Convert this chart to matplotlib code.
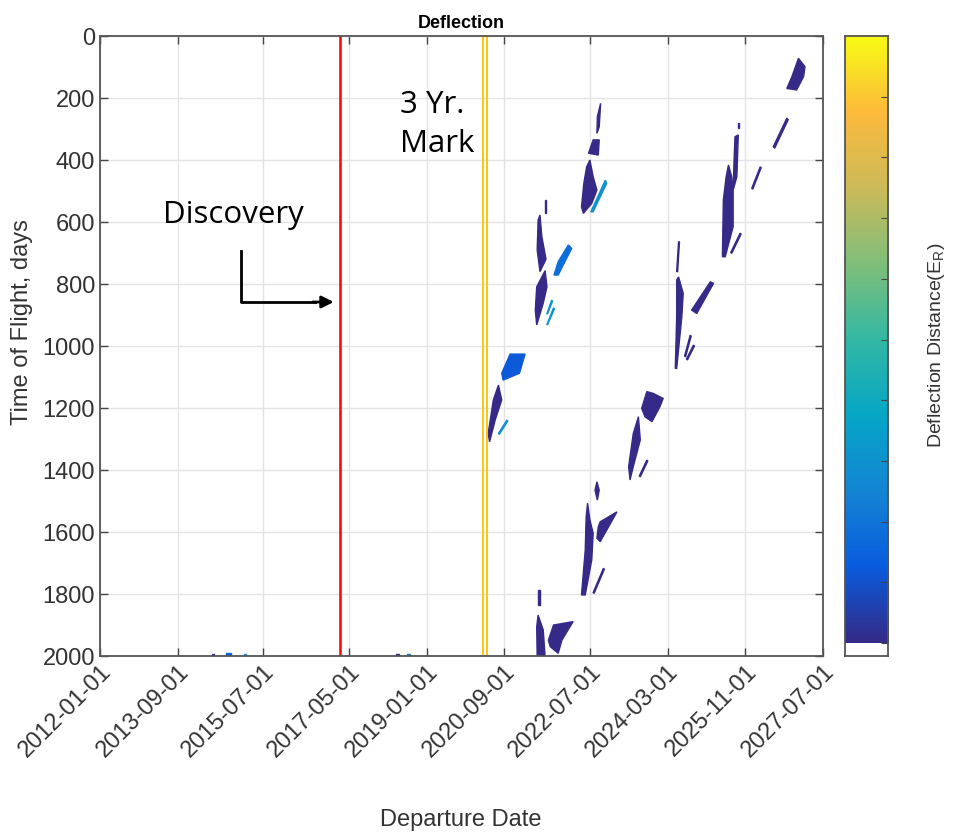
import numpy as np
import matplotlib
matplotlib.use("Agg")
import matplotlib.pyplot as plt
import matplotlib.dates as mdates
from matplotlib.colors import LinearSegmentedColormap
from datetime import datetime

plt.rcParams["font.family"] = ["Liberation Sans", "DejaVu Sans"]

# Departure window and reference dates
date_start = "2012-01-01"
date_end = "2027-07-01"
tick_dates = ["2012-01-01", "2013-09-01", "2015-07-01", "2017-05-01", "2019-01-01",
              "2020-09-01", "2022-07-01", "2024-03-01", "2025-11-01", "2027-07-01"]
tof_ticks = [0, 200, 400, 600, 800, 1000, 1200, 1400, 1600, 1800, 2000]
discovery_year = 2017.15
three_yr_mark = [2020.21, 2020.29]

# Deflection regions: departure (decimal year), time of flight (days), level (0..1)
blob_years = [
    [2020.79, 2021.11, 2020.99, 2020.64, 2020.61],
    [2020.54, 2020.61, 2020.47, 2020.35, 2020.32, 2020.43],
    [2020.72, 2020.74, 2020.56, 2020.54],
    [2021.43, 2021.47, 2021.56, 2021.43, 2021.37, 2021.39],
    [2021.54, 2021.58, 2021.50, 2021.36, 2021.33, 2021.36],
    [2021.54, 2021.56, 2021.56, 2021.53],
    [2022.04, 2022.11, 2021.82, 2021.73, 2021.82],
    [2021.68, 2021.70, 2021.59, 2021.58],
    [2021.72, 2021.74, 2021.59, 2021.58],
    [2022.73, 2022.70, 2022.65, 2022.66],
    [2022.57, 2022.70, 2022.68, 2022.47],
    [2022.50, 2022.57, 2022.65, 2022.54, 2022.36, 2022.32, 2022.37, 2022.43],
    [2022.83, 2022.86, 2022.57, 2022.52],
    [2022.65, 2022.70, 2022.66, 2022.61],
    [2022.45, 2022.50, 2022.57, 2022.54, 2022.40, 2022.32, 2022.40, 2022.42],
    [2022.72, 2023.08, 2022.86, 2022.72, 2022.65, 2022.68],
    [2022.79, 2022.81, 2022.59, 2022.57],
    [2021.39, 2021.43, 2021.43, 2021.39],
    [2021.39, 2021.50, 2021.54, 2021.37, 2021.36],
    [2021.72, 2022.14, 2021.90, 2021.82, 2021.65, 2021.61],
    [2023.72, 2023.86, 2024.07, 2024.00, 2023.83, 2023.68, 2023.61],
    [2023.54, 2023.58, 2023.43, 2023.36, 2023.33, 2023.43],
    [2023.72, 2023.74, 2023.58, 2023.56],
    [2024.40, 2024.42, 2024.38, 2024.36],
    [2024.40, 2024.50, 2024.47, 2024.36, 2024.33, 2024.36, 2024.36],
    [2025.08, 2025.15, 2024.79, 2024.68],
    [2024.65, 2024.67, 2024.55, 2024.53],
    [2024.72, 2024.74, 2024.59, 2024.57],
    [2025.68, 2025.65, 2025.57, 2025.59, 2025.61],
    [2025.47, 2025.54, 2025.57, 2025.57, 2025.40, 2025.34, 2025.36, 2025.42],
    [2025.67, 2025.69, 2025.69, 2025.67],
    [2025.72, 2025.74, 2025.54, 2025.52],
    [2026.15, 2026.17, 2025.99, 2025.97],
    [2026.72, 2026.75, 2026.46, 2026.43],
    [2026.97, 2027.11, 2027.08, 2026.93, 2026.72, 2026.83],
    [2014.40, 2014.45, 2014.45, 2014.40],
    [2014.70, 2014.80, 2014.80, 2014.70],
    [2015.09, 2015.13, 2015.13, 2015.09],
    [2018.34, 2018.41, 2018.41, 2018.34],
    [2018.59, 2018.65, 2018.65, 2018.59],
]
blob_tof = [
    [1026, 1026, 1088, 1110, 1088],
    [1126, 1174, 1239, 1309, 1282, 1174],
    [1239, 1242, 1285, 1282],
    [577, 647, 720, 760, 690, 594],
    [757, 809, 862, 932, 884, 809],
    [529, 529, 572, 572],
    [674, 685, 771, 771, 728],
    [852, 855, 897, 895],
    [877, 880, 932, 930],
    [217, 293, 314, 260],
    [335, 335, 384, 378],
    [400, 454, 497, 540, 572, 551, 475, 422],
    [465, 475, 567, 567],
    [1438, 1465, 1497, 1465],
    [1507, 1561, 1604, 1690, 1803, 1803, 1658, 1551],
    [1567, 1535, 1594, 1631, 1620, 1583],
    [1717, 1720, 1798, 1795],
    [1787, 1787, 1836, 1836],
    [1868, 1916, 2002, 2002, 1906],
    [1900, 1889, 1949, 1991, 1970, 1949],
    [1147, 1153, 1169, 1196, 1244, 1228, 1201],
    [1228, 1303, 1389, 1432, 1389, 1282],
    [1368, 1371, 1422, 1419],
    [664, 664, 760, 760],
    [777, 830, 906, 1072, 1072, 906, 787],
    [793, 798, 895, 884],
    [965, 968, 1035, 1032],
    [997, 1000, 1045, 1042],
    [319, 454, 497, 400, 325],
    [416, 454, 497, 615, 712, 712, 529, 454],
    [282, 282, 298, 298],
    [636, 639, 701, 698],
    [422, 425, 494, 491],
    [265, 270, 362, 357],
    [72, 99, 131, 174, 169, 131],
    [1992, 1992, 2000, 2000],
    [1991, 1991, 2000, 2000],
    [1993, 1993, 2000, 2000],
    [1992, 1992, 2000, 2000],
    [1992, 1992, 2000, 2000],
]
blob_level = [0.12, 0.0, 0.3, 0.0, 0.0, 0.0, 0.18, 0.3, 0.3,
              0.0, 0.0, 0.0, 0.3, 0.0, 0.0, 0.0, 0.0, 0.0, 0.0, 0.0,
              0.0, 0.0, 0.0, 0.0, 0.0, 0.0, 0.0, 0.0, 0.0, 0.0, 0.0,
              0.0, 0.0, 0.0, 0.0, 0.0, 0.15, 0.3, 0.0, 0.2]

parula = LinearSegmentedColormap.from_list("parula", [
    (0.00, (0.208, 0.166, 0.529)),
    (0.125, (0.035, 0.360, 0.870)),
    (0.25, (0.078, 0.522, 0.831)),
    (0.375, (0.024, 0.652, 0.776)),
    (0.50, (0.200, 0.722, 0.640)),
    (0.625, (0.500, 0.749, 0.478)),
    (0.75, (0.800, 0.730, 0.350)),
    (0.875, (0.990, 0.730, 0.235)),
    (1.00, (0.976, 0.983, 0.081)),
])


def year_to_num(y):
    base = mdates.date2num(datetime(2012, 1, 1))
    return base + (np.asarray(y) - 2012) * 365.25


fig = plt.figure(figsize=(9.54, 8.34), dpi=100)
ax = fig.add_axes([0.1048, 0.2134, 0.7579, 0.7434])

for xs, ys, lv in zip(blob_years, blob_tof, blob_level):
    ax.fill(year_to_num(xs), ys, color=parula(lv), lw=1.0, ec=parula(lv))

ax.axvline(year_to_num(discovery_year), color="red", lw=1.8)
for y in three_yr_mark:
    ax.axvline(year_to_num(y), color="#FFC000", lw=1.3)

xt = [mdates.datestr2num(d) for d in tick_dates]
ax.set_xticks(xt)
ax.set_xticklabels(tick_dates, rotation=45, ha="right", rotation_mode="anchor")
ax.set_xlim(mdates.datestr2num(date_start), mdates.datestr2num(date_end))
ax.set_yticks(tof_ticks)
ax.set_ylim(2000, 0)
ax.grid(True, color="#E4E4E4", lw=1)
ax.set_axisbelow(True)
ax.tick_params(direction="in", length=6, width=1, colors="#444444",
               labelcolor="#333333", labelsize=17, top=True, right=True)
for s in ax.spines.values():
    s.set_color("#555555")
    s.set_linewidth(1.3)
ax.set_title("Deflection", fontsize=13, fontweight="bold", pad=6)

# annotations
ax.text(year_to_num(2013.35), 577, "Discovery", fontsize=22.5, family="Open Sans",
        va="center", ha="left")
ax.text(year_to_num(2018.43), 175, "3 Yr.\nMark", fontsize=22.5, family="Open Sans",
        va="top", ha="left", linespacing=1.4)
ax.plot(year_to_num([2015.02, 2015.02, 2016.6]), [694, 858, 858], color="black", lw=2)
ax.annotate("", xy=(year_to_num(2017.07), 858), xytext=(year_to_num(2016.5), 858),
            arrowprops=dict(arrowstyle="-|>", color="black", lw=2, mutation_scale=18))

fig.text(461 / 954, 1 - 820 / 834, "Departure Date", fontsize=17, color="#333333",
         ha="center", va="center")
fig.text(22 / 954, 1 - 322 / 834, "Time of Flight, days", fontsize=17, color="#333333",
         ha="center", va="center", rotation=90)

# colorbar
cax = fig.add_axes([0.8857, 0.2134, 0.0451, 0.7434])
grad = np.linspace(0, 1, 256)[:, None]
cax.imshow(grad, cmap=parula, aspect="auto", origin="lower", extent=[0, 1, 0, 1])
cax.set_xlim(0, 1)
cax.set_ylim(-0.0215, 1)
cax.set_xticks([])
cax.set_yticks(np.arange(0, 1, 0.1))
cax.yaxis.tick_right()
cax.tick_params(direction="in", length=5, colors="#444444", labelright=False, labelleft=False)
for s in cax.spines.values():
    s.set_color("#555555")
    s.set_linewidth(1.3)
fig.text(937 / 954, 1 - 345 / 834, "Deflection Distance(E$_\\mathregular{R}$)", fontsize=14,
         color="#333333", ha="center", va="center", rotation=90)

fig.savefig("out.png", dpi=100)
